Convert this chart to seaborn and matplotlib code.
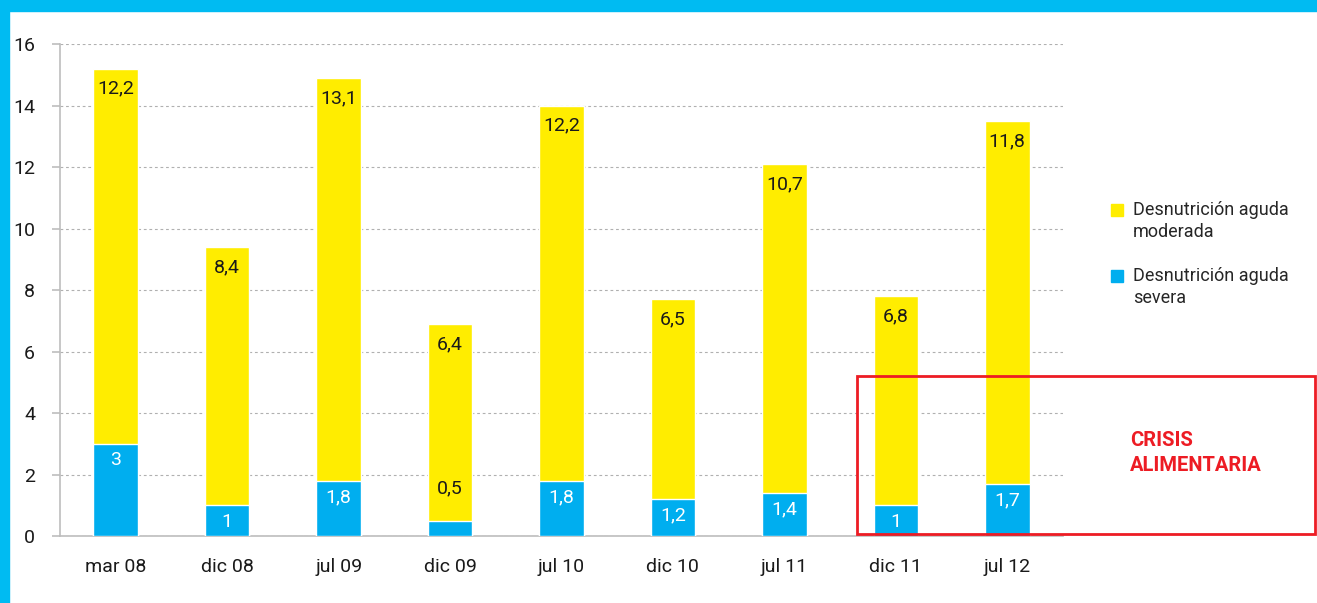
import matplotlib
matplotlib.use("Agg")
import matplotlib.pyplot as plt
import seaborn as sns
import pandas as pd
from matplotlib.lines import Line2D
from matplotlib.patches import Rectangle
from matplotlib.transforms import Affine2D

periods = ["mar 08", "dic 08", "jul 09", "dic 09", "jul 10", "dic 10", "jul 11", "dic 11", "jul 12"]
severa = [3, 1, 1.8, 0.5, 1.8, 1.2, 1.4, 1, 1.7]
moderada = [12.2, 8.4, 13.1, 6.4, 12.2, 6.5, 10.7, 6.8, 11.8]

YELLOW = "#FFED00"
BLUE = "#00AEEF"
CYAN = "#00BBF2"
RED = "#ED1C24"
GRAY = "#BDBDBD"
TXT = "#1a1a1a"

sns.set_theme(style="white")
plt.rcParams["font.family"] = ["Roboto", "DejaVu Sans"]

df = pd.DataFrame({"periodo": periods, "severa": severa, "moderada": moderada})
df["total"] = df["severa"] + df["moderada"]

fig = plt.figure(figsize=(13.17, 6.03), dpi=100)
ax = fig.add_axes([0.0456, 0.111, 0.7615, 0.816])

sns.barplot(data=df, x="periodo", y="total", color=YELLOW, width=0.4, saturation=1, ax=ax, zorder=3)
sns.barplot(data=df, x="periodo", y="severa", color=BLUE, width=0.4, saturation=1, ax=ax, zorder=3)

def fmt(v):
    return f"{v:g}".replace(".", ",")

for i, row in df.iterrows():
    ax.annotate(fmt(row["moderada"]), (i, row["total"]), xytext=(0, -14.5), textcoords="offset points",
                ha="center", va="center", fontsize=14, color=TXT, zorder=5)
    if row["severa"] < 0.8:
        ax.annotate(fmt(row["severa"]), (i, row["severa"]), xytext=(0, 23), textcoords="offset points",
                    ha="center", va="center", fontsize=14, color=TXT, zorder=5)
    else:
        ax.annotate(fmt(row["severa"]), (i, row["severa"]), xytext=(0, -12), textcoords="offset points",
                    ha="center", va="center", fontsize=14, color="white", zorder=5)

ax.set_xlim(-0.5, len(periods) - 0.5)
ax.set_ylim(0, 16)
ax.set_yticks(range(0, 17, 2))
ax.set_xlabel("")
ax.set_ylabel("")
ax.yaxis.grid(True, linestyle=(0, (2.5, 2.5)), color="#b0b0b0", linewidth=0.8, zorder=0)
ax.set_axisbelow(True)

for s in ["top", "right"]:
    ax.spines[s].set_visible(False)
for s in ["left", "bottom"]:
    ax.spines[s].set_color(GRAY)
    ax.spines[s].set_linewidth(1.2)

ax.set_xticks([i + 0.5 for i in range(-1, len(periods))], minor=True)
ax.tick_params(axis="x", which="minor", length=6, color=GRAY, width=1.2, direction="out")
ax.tick_params(axis="x", which="major", length=0, pad=16, labelsize=14, labelcolor=TXT)
ax.tick_params(axis="y", which="major", length=6, color=GRAY, width=1.2, direction="out",
               left=True, pad=12, labelsize=14, labelcolor=TXT)

handles = [
    Line2D([], [], marker="s", linestyle="", color=YELLOW, markersize=9),
    Line2D([], [], marker="s", linestyle="", color=BLUE, markersize=9),
]
labels = ["Desnutrición aguda\nmoderada", "Desnutrición aguda\nsevera"]
leg = ax.legend(handles, labels, loc="upper left", bbox_to_anchor=(1.038, 0.696), frameon=False,
                fontsize=13, labelspacing=1.45, handletextpad=0.35, handlelength=1.0, borderaxespad=0)
for t in leg.get_texts():
    t.set_linespacing(1.3)
# put the square next to the first line of each label
for h in leg.legend_handles:
    h.set_transform(h.get_transform() + Affine2D().translate(0, 12))

box = Rectangle((6.65, 0.07), 4.11, 5.13, fill=False, edgecolor=RED, linewidth=2, clip_on=False, zorder=6)
ax.add_patch(box)
ax.text(9.1, 2.7, "CRISIS\nALIMENTARIA", color=RED, fontsize=14.5, fontweight="bold",
        ha="left", va="center", linespacing=1.45, clip_on=False)

fig.patches.append(Rectangle((0, 0.981), 1, 0.019, transform=fig.transFigure, color=CYAN, zorder=10))
fig.patches.append(Rectangle((0, 0), 0.0065, 1, transform=fig.transFigure, color=CYAN, zorder=10))

fig.savefig("out.png", dpi=100)
